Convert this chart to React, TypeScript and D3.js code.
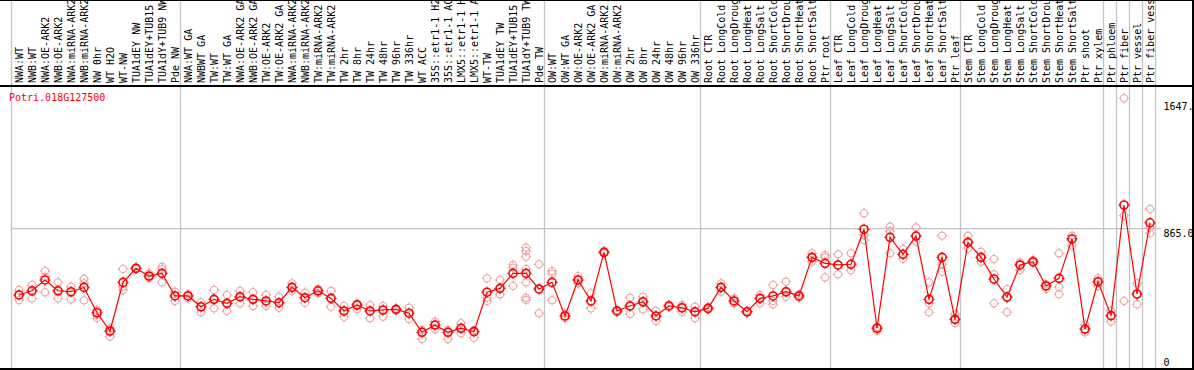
import React from "react";
import * as d3 from "d3";

const geneName = "Potri.018G127500";

const categories = [
  "NWA:WT", "NWB:WT", "NWA:OE-ARK2", "NWB:OE-ARK2", "NWA:miRNA-ARK2", "NWB:miRNA-ARK2",
  "NW 0hr", "WT H2O", "WT-NW", "TUA1dEY NW", "TUA1dEY+TUB15", "TUA1dY+TUB9 NW", "Pde NW",
  "NWA:WT GA", "NWBWT GA", "TW:WT", "TW:WT GA", "NWA:OE-ARK2 GA", "NWB:OE-ARK2 GA",
  "TW:OE-ARK2", "TW:OE-ARK2 GA", "NWA:miRNA-ARK2", "NWB:miRNA-ARK2", "TW:miRNA-ARK2",
  "TW:miRNA-ARK2", "TW 2hr", "TW 8hr", "TW 24hr", "TW 48hr", "TW 96hr", "TW 336hr",
  "WT ACC", "35S::etr1-1 H2", "35S::etr1-1 AC", "LMX5::etr1-1 H", "LMX5::etr1-1 A",
  "WT-TW", "TUA1dEY TW", "TUA1dEY+TUB15", "TUA1dY+TUB9 TW", "Pde TW",
  "OW:WT", "OW:WT GA", "OW:OE-ARK2", "OW:OE-ARK2 GA", "OW:miRNA-ARK2", "OW:miRNA-ARK2",
  "OW 2hr", "OW 8hr", "OW 24hr", "OW 48hr", "OW 96hr", "OW 336hr",
  "Root CTR", "Root LongCold", "Root LongDroug", "Root LongHeat", "Root LongSalt",
  "Root ShortCold", "Root ShortDrou", "Root ShortHeat", "Root ShortSalt", "Ptr root",
  "Leaf CTR", "Leaf LongCold", "Leaf LongDroug", "Leaf LongHeat", "Leaf LongSalt",
  "Leaf ShortCold", "Leaf ShortDrou", "Leaf ShortHeat", "Leaf ShortSalt", "Ptr leaf",
  "Stem CTR", "Stem LongCold", "Stem LongDroug", "Stem LongHeat", "Stem LongSalt",
  "Stem ShortCold", "Stem ShortDrou", "Stem ShortHeat", "Stem ShortSalt", "Ptr shoot",
  "Ptr xylem", "Ptr phloem", "Ptr fiber", "Ptr vessel", "Ptr fiber vess",
];

// first category index of each new group (separator lines)
const groupStarts = [0, 13, 41, 53, 63, 73, 84, 85, 86, 87, 88];

const meanValues = [
  454, 480, 547, 480, 474, 501, 344, 231, 532, 619, 571, 588, 448,
  448, 381, 427, 402, 443, 427, 417, 406, 501, 437, 480, 433, 355, 392, 355, 361, 365, 341,
  223, 268, 223, 248, 227, 471, 495, 588, 588, 491,
  532, 324, 547, 417, 718, 355, 386, 412, 324, 386, 375, 350,
  371, 501, 417, 350, 433, 448, 474, 448, 687, 650,
  640, 644, 861, 248, 811, 706, 819, 427, 687, 303,
  780, 687, 553, 441, 640, 660, 510, 557, 801, 243, 536,
  326, 1011, 460, 901,
];

const replicateValues = [
  [485, 454, 423], [516, 480, 433], [602, 567, 471], [532, 480, 433], [505, 474, 427],
  [553, 526, 421], [360, 329, 311], [248, 227, 196], [615, 505, 485], [623, 619, 615],
  [588, 571, 557], [629, 615, 532], [474, 448, 417],
  [458, 448, 433], [409, 381, 347], [485, 427, 371], [454, 402, 355], [479, 443, 402],
  [471, 427, 386], [454, 417, 386], [443, 406, 375], [526, 501, 479], [468, 437, 406],
  [491, 480, 466], [479, 433, 381], [386, 355, 319], [402, 392, 365], [392, 355, 310],
  [386, 361, 319], [371, 365, 359], [375, 341, 305], [237, 223, 181], [289, 268, 243],
  [237, 223, 181], [279, 248, 217], [237, 227, 189], [557, 437, 417], [547, 495, 458],
  [640, 623, 510], [747, 726, 691, 615, 532, 437, 423], [644, 489, 341],
  [602, 586, 421], [341, 324, 310], [571, 547, 526], [464, 417, 371], [726, 718, 712],
  [361, 355, 349], [437, 386, 336], [443, 412, 365], [355, 324, 293], [392, 386, 380],
  [392, 375, 350], [381, 350, 310],
  [380, 371, 364], [526, 501, 474], [433, 417, 402], [357, 350, 344], [454, 433, 402],
  [516, 417, 396], [536, 474, 443], [458, 448, 437], [712, 687, 660], [701, 687, 563],
  [706, 640, 582], [712, 644, 607], [960, 825, 794], [256, 248, 231], [877, 850, 712],
  [737, 706, 677], [873, 819, 784], [532, 402, 347], [821, 644, 598], [334, 303, 279],
  [821, 780, 743], [722, 687, 660], [677, 582, 402], [489, 441, 347], [656, 640, 609],
  [671, 660, 652], [522, 510, 491], [712, 503, 458], [821, 801, 759], [272, 243, 223],
  [557, 536, 510], [355, 326, 289], [1672, 945, 417], [526, 460, 396], [986, 870, 836],
];

const yTickValues = [1647, 865, 0];
const yTickLabels = ["1647.", "865.0", "0"];
const gridValues = [865];

const W = 1194;
const H = 370;
const FONT = "'DejaVu Sans Mono', monospace";

function Marker({ cx, cy, r, color, sw }: { cx: number; cy: number; r: number; color: string; sw: number }) {
  const t = 1.6;
  return (
    <g stroke={color} strokeWidth={sw} fill="none">
      <circle cx={cx} cy={cy} r={r} />
      <line x1={cx} y1={cy - r} x2={cx} y2={cy - r - t} strokeWidth={1} />
      <line x1={cx} y1={cy + r} x2={cx} y2={cy + r + t} strokeWidth={1} />
      <line x1={cx - r} y1={cy} x2={cx - r - t} y2={cy} strokeWidth={1} />
      <line x1={cx + r} y1={cy} x2={cx + r + t} y2={cy} strokeWidth={1} />
    </g>
  );
}

export default function App() {
  const x = d3
    .scaleBand<number>()
    .domain(d3.range(categories.length))
    .range([11.5, 1155.5])
    .paddingInner(0)
    .paddingOuter(0);
  const bw = x.bandwidth();
  const px = (i: number) => (x(i) as number) + bw / 2 + 1;
  const y = d3.scaleLinear().domain([0, 1647]).range([368.3, 102.3]);
  const plotTop = 87;
  const plotBottom = 368;

  const line = d3
    .line<number>()
    .x((_, i) => px(i))
    .y((d) => y(d));

  const sepX = (k: number) => (k >= categories.length ? 1155.5 : (x(k) as number));

  return (
    <svg
      width={W}
      height={H}
      style={{ position: "absolute", left: 0, top: 0, background: "#fff" }}
      fontFamily={FONT}
    >
      <rect x={0} y={0} width={W} height={H} fill="#fff" />
      {/* vertical separators */}
      {groupStarts.map((k) => (
        <line
          key={"s" + k}
          x1={sepX(k)}
          x2={sepX(k)}
          y1={0}
          y2={plotBottom}
          stroke="#c4c4c4"
          strokeWidth={1.3}
        />
      ))}
      {/* grid */}
      {gridValues.map((v) => (
        <line key={"g" + v} x1={11.5} x2={1161} y1={y(v)} y2={y(v)} stroke="#c4c4c4" strokeWidth={1.3} />
      ))}
      {/* category labels */}
      {categories.map((c, i) => (
        <text
          key={"l" + i}
          transform={`translate(${px(i) + 3.6},83) rotate(-90)`}
          fontSize={10}
          fill="#000"
        >
          {c}
        </text>
      ))}
      {/* frame lines */}
      <line x1={0} x2={W} y1={0.5} y2={0.5} stroke="#000" strokeWidth={1} />
      <line x1={0} x2={W} y1={plotTop - 1} y2={plotTop - 1} stroke="#000" strokeWidth={2} />
      <line x1={0} x2={W} y1={369} y2={369} stroke="#000" strokeWidth={2} />
      <line x1={1193} x2={1193} y1={0} y2={H} stroke="#000" strokeWidth={2} />
      {/* gene name */}
      <text x={9} y={101} fontSize={10} fill="#ff0000">
        {geneName}
      </text>
      {/* y labels */}
      {yTickValues.map((v, i) => (
        <text key={"y" + i} x={1163.5} y={Math.min(y(v) + 8, 366)} fontSize={10} fill="#000">
          {yTickLabels[i]}
        </text>
      ))}
      {/* replicates */}
      {replicateValues.map((reps, i) =>
        reps.map((v, j) => (
          <Marker key={`r${i}-${j}`} cx={px(i)} cy={y(v)} r={3.7} color="#ef9c9c" sw={1} />
        ))
      )}
      {/* mean line */}
      <path d={line(meanValues) || ""} fill="none" stroke="#ff0000" strokeWidth={1.2} />
      {meanValues.map((v, i) => (
        <Marker key={"m" + i} cx={px(i)} cy={y(v)} r={4} color="#ff0000" sw={1.6} />
      ))}
    </svg>
  );
}
